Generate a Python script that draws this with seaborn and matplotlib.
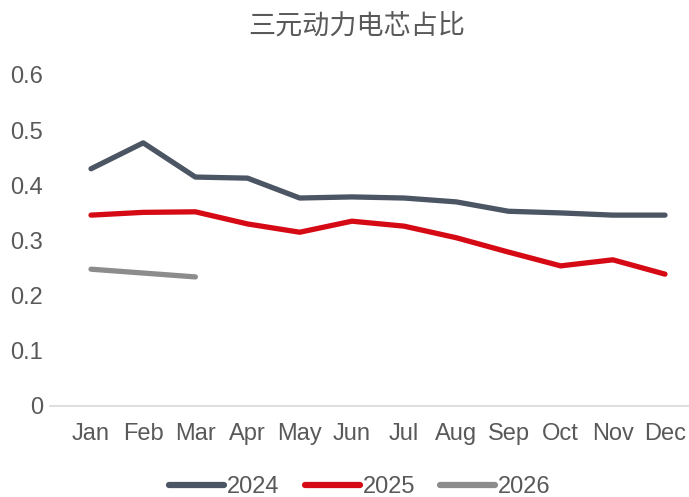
import matplotlib
matplotlib.use("Agg")
import matplotlib.pyplot as plt
import seaborn as sns
import pandas as pd

months = ["Jan", "Feb", "Mar", "Apr", "May", "Jun", "Jul", "Aug", "Sep", "Oct", "Nov", "Dec"]
share_2024 = [0.430, 0.477, 0.415, 0.413, 0.377, 0.379, 0.377, 0.370, 0.353, 0.350, 0.346, 0.346]
share_2025 = [0.346, 0.351, 0.352, 0.330, 0.315, 0.335, 0.326, 0.305, 0.279, 0.254, 0.265, 0.239]
share_2026 = [0.248, 0.241, 0.234]
years = ["2024", "2025", "2026"]
palette = {"2024": "#4B5563", "2025": "#D50A14", "2026": "#8C8C8C"}

rows = []
for year, vals in zip(years, [share_2024, share_2025, share_2026]):
    for i, v in enumerate(vals):
        rows.append({"month_idx": i, "share": v, "year": year})
df = pd.DataFrame(rows)

sns.set_theme(style="white")
plt.rcParams["font.family"] = ["Liberation Sans", "Noto Sans CJK SC", "DejaVu Sans"]

fig = plt.figure(figsize=(6.89, 4.97), dpi=100)
ax = fig.add_axes([50 / 689, 1 - 406 / 497, 1 - 50 / 689, (406 - 75) / 497])

sns.lineplot(data=df, x="month_idx", y="share", hue="year", palette=palette,
             linewidth=3.8, ax=ax, legend=True)
for ln in ax.lines:
    ln.set_solid_capstyle("round")
    ln.set_solid_joinstyle("round")

ax.set_xlim(-0.786, 11.46)
ax.set_ylim(0, 0.6)
ax.set_xticks(range(len(months)))
ax.set_xticklabels(months)
ax.set_yticks([0, 0.1, 0.2, 0.3, 0.4, 0.5, 0.6])
ax.set_yticklabels(["0", "0.1", "0.2", "0.3", "0.4", "0.5", "0.6"])
ax.set_xlabel("")
ax.set_ylabel("")
ax.tick_params(axis="both", length=0, labelsize=17, colors="#595959")
ax.tick_params(axis="y", pad=5)
ax.tick_params(axis="x", pad=12)

for side in ["top", "right", "left"]:
    ax.spines[side].set_visible(False)
ax.spines["bottom"].set_color("#D9D9D9")
ax.spines["bottom"].set_linewidth(1.2)
ax.grid(False)

fig.text(357 / 689, 1 - 26 / 497, "三元动力电芯占比", ha="center", va="center",
         fontsize=19.5, color="#595959",
         family=["Noto Sans CJK SC", "DejaVu Sans"])

leg = ax.legend(loc="center", bbox_to_anchor=((360 - 50) / 639, (406 - 487) / 331),
                ncol=3, frameon=False, fontsize=17, handlelength=2.33,
                handletextpad=0.13, columnspacing=1.06, borderaxespad=0)
for h in leg.get_lines():
    h.set_linewidth(4.5)
    h.set_solid_capstyle("round")
for t in leg.get_texts():
    t.set_color("#595959")

fig.savefig("out.png", dpi=100, facecolor="white")
